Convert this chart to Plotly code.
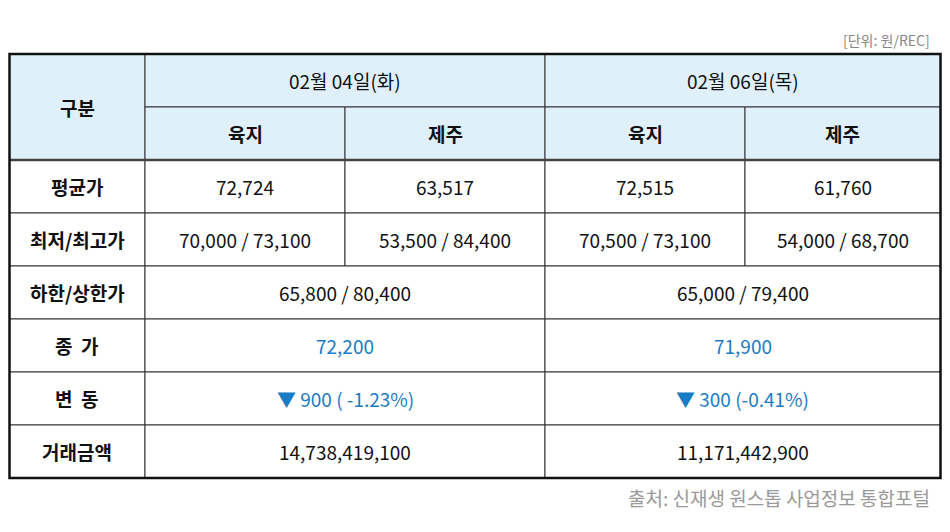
import plotly.graph_objects as go

# 데이터
dates = ["02월 04일(화)", "02월 06일(목)"]
regions = ["육지", "제주"]
row_labels = ["평균가", "최저/최고가", "하한/상한가", "종  가", "변  동", "거래금액"]
avg_price = ["72,724", "63,517", "72,515", "61,760"]
min_max = ["70,000 / 73,100", "53,500 / 84,400", "70,500 / 73,100", "54,000 / 68,700"]
limit = ["65,800 / 80,400", "65,000 / 79,400"]
close = ["72,200", "71,900"]
change = ["▼ 900 ( -1.23%)", "▼ 300 (-0.41%)"]
amount = ["14,738,419,100", "11,171,442,900"]

col_x = [9.5, 145, 345, 545, 745, 940.5]
top = 54
rh = 53
FONT = "Noto Sans CJK KR"
HEAD_BG = "#dff0fb"
BLUE = "#1a7cc4"

fig = go.Figure()
shapes = []
annots = []


def cell(r, c0, span, text, bg="white", color="#111", bold=False, rows=1):
    x0, x1 = col_x[c0], col_x[c0 + span]
    y0, y1 = top + r * rh, top + (r + rows) * rh
    shapes.append(dict(type="rect", x0=x0, x1=x1, y0=y0, y1=y1, fillcolor=bg,
                       line=dict(color="#333", width=1), layer="below"))
    annots.append(dict(x=(x0 + x1) / 2, y=(y0 + y1) / 2, text=f"<b>{text}</b>" if bold else text,
                       showarrow=False, font=dict(family=FONT, size=19, color=color)))


# 헤더
cell(0, 0, 1, "구분", HEAD_BG, bold=True, rows=2)
for i, d in enumerate(dates):
    cell(0, 1 + 2 * i, 2, d, HEAD_BG)
    for j, reg in enumerate(regions):
        cell(1, 1 + 2 * i + j, 1, reg, HEAD_BG, bold=True)

# 본문
for r, lab in enumerate(row_labels):
    cell(2 + r, 0, 1, lab, bold=True)
for k in range(4):
    cell(2, 1 + k, 1, avg_price[k])
    cell(3, 1 + k, 1, min_max[k])
for i in range(2):
    cell(4, 1 + 2 * i, 2, limit[i])
    cell(5, 1 + 2 * i, 2, close[i], color=BLUE)
    cell(6, 1 + 2 * i, 2, change[i], color=BLUE)
    cell(7, 1 + 2 * i, 2, amount[i])

# 테두리
shapes.append(dict(type="line", x0=col_x[0], x1=col_x[-1], y0=top + 2 * rh, y1=top + 2 * rh,
                   line=dict(color="#444", width=2.5)))
shapes.append(dict(type="rect", x0=col_x[0], x1=col_x[-1], y0=top, y1=top + 8 * rh,
                   line=dict(color="#111", width=2.5)))

annots.append(dict(x=932, y=40, text="[단위: 원/REC]", showarrow=False, xanchor="right",
                   font=dict(family=FONT, size=14, color="#888")))
annots.append(dict(x=932, y=497, text="출처: 신재생 원스톱 사업정보 통합포털", showarrow=False,
                   xanchor="right", font=dict(family=FONT, size=19, color="#999")))

# 페이지 여백(8px) 보정
fig.update_layout(width=934, height=516, margin=dict(l=0, r=0, t=0, b=0),
                  plot_bgcolor="white", paper_bgcolor="white", shapes=shapes, annotations=annots,
                  xaxis=dict(range=[8, 942], visible=False, fixedrange=True),
                  yaxis=dict(range=[524, 8], visible=False, fixedrange=True),
                  showlegend=False)

fig.write_html("out.html")
